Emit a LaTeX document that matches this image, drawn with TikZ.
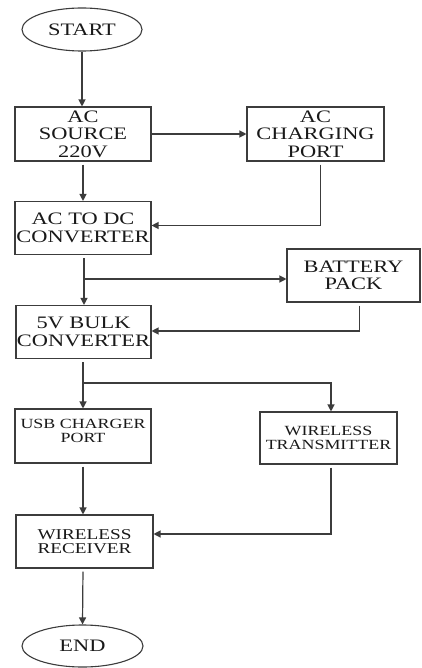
\documentclass[tikz,border=0pt]{standalone}
\usepackage{fontspec}
\setmainfont{Liberation Serif}[FakeStretch=1.28]
\usetikzlibrary{shapes.geometric,arrows.meta}
\definecolor{ln}{RGB}{60,60,60}
\definecolor{tx}{RGB}{25,25,25}
\tikzset{
  box/.style={draw=ln,line width=1.1pt,rectangle,inner sep=0pt,align=center,text=tx,
    font=\fontsize{17.5}{17.5}\selectfont},
  oval/.style={draw=ln,line width=1.1pt,ellipse,inner sep=0pt,text=tx,
    font=\fontsize{17.5}{17.5}\selectfont},
  smalltext/.style={inner sep=0pt,align=center,text=tx,font=\fontsize{14}{14}\selectfont},
  conn/.style={draw=ln,line width=1.2pt,-{Triangle[length=7pt,width=7pt]}},
  plain/.style={draw=ln,line width=1.2pt}
}
\begin{document}
\begin{tikzpicture}[x=1pt,y=-1pt]
\useasboundingbox (0,0) rectangle (421,668);
\fill[white] (0,0) rectangle (421,668);
% nodes
\node[oval,minimum width=120pt,minimum height=43pt] (start) at (82,29.5) {START};
\node[box,minimum width=136pt,minimum height=54pt] (acs) at (83,134) {AC\\SOURCE\\220V};
\node[box,minimum width=137pt,minimum height=54pt] (acp) at (315.5,134) {AC\\CHARGING\\PORT};
\node[box,minimum width=136pt,minimum height=53pt] (acdc) at (83,228) {AC TO DC\\CONVERTER};
\node[box,minimum width=133pt,minimum height=53pt] (bat) at (353.5,275.5) {BATTERY\\PACK};
\node[box,minimum width=135pt,minimum height=53pt] (bulk) at (83.5,332) {5V BULK\\CONVERTER};
\node[box,minimum width=136pt,minimum height=54pt] (usb) at (83,436) {};
\node[smalltext] (usbt) at (83,430.5) {USB CHARGER\\PORT};
\node[box,minimum width=137pt,minimum height=52pt,font=\fontsize{14}{14}\selectfont] (wtx) at (328.5,438) {WIRELESS\\TRANSMITTER};
\node[box,minimum width=137pt,minimum height=53pt,font=\fontsize{15}{14.5}\selectfont] (wrx) at (84.5,541.5) {WIRELESS\\RECEIVER};
\node[oval,minimum width=121pt,minimum height=42pt] (end) at (82.5,646) {END};
% junctions
\coordinate (j1) at (84,279);
\coordinate (j2) at (83,383);
% connectors
\draw[conn] (start.south) -- (start.south |- acs.north);
\draw[conn] (acs.east) -- (acp.west);
\draw[conn,shorten <=3pt] (acs.south) -- (acdc.north);
\draw[conn,shorten <=3pt] ([xshift=5pt]acp.south) |- ([yshift=2.5pt]acdc.east);
\draw[conn,shorten <=3pt] ([xshift=1pt]acdc.south) -- ([xshift=0.5pt]bulk.north);
\draw[conn] (j1) -- (j1 -| bat.west);
\draw[conn,shorten <=3pt] ([xshift=6pt]bat.south) |- ([yshift=1pt]bulk.east);
\draw[conn,shorten <=3pt] ([xshift=-0.5pt]bulk.south) -- (usb.north);
\draw[conn] (j2) -| ([xshift=2.5pt]wtx.north);
\draw[conn,shorten <=3pt] (usb.south) -- (usb.south |- wrx.north);
\draw[conn,shorten <=3pt] ([xshift=2.5pt]wtx.south) |- ([yshift=7.5pt]wrx.east);
\draw[conn,shorten <=3pt] ([xshift=-1.5pt]wrx.south) -- (end.north);
\end{tikzpicture}
\end{document}
